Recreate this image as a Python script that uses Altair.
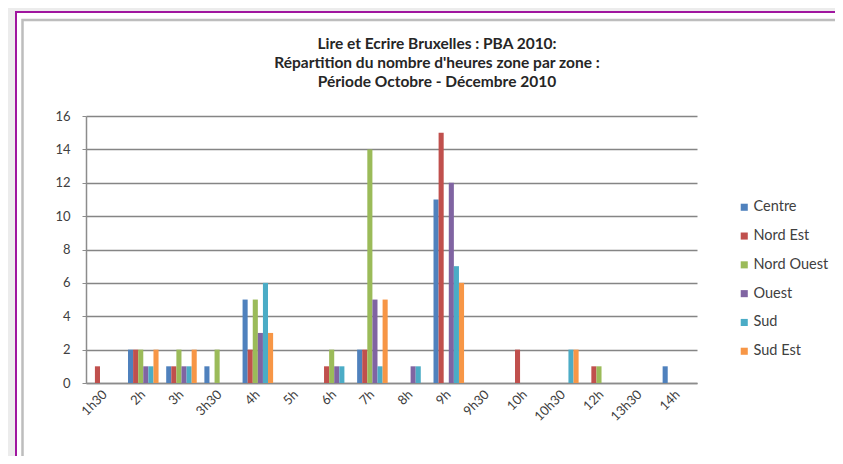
import altair as alt
import pandas as pd

categories = ["1h30", "2h", "3h", "3h30", "4h", "5h", "6h", "7h", "8h", "9h",
              "9h30", "10h", "10h30", "12h", "13h30", "14h"]
series = ["Centre", "Nord Est", "Nord Ouest", "Ouest", "Sud", "Sud Est"]
colors = ["#4F81BD", "#C0504D", "#9BBB59", "#8064A2", "#4BACC6", "#F79646"]

centre     = [0, 2, 1, 1, 5, 0, 0, 2, 0, 11, 0, 0, 0, 0, 0, 1]
nord_est   = [1, 2, 1, 0, 2, 0, 1, 2, 0, 15, 0, 2, 0, 1, 0, 0]
nord_ouest = [0, 2, 2, 2, 5, 0, 2, 14, 0, 0, 0, 0, 0, 1, 0, 0]
ouest      = [0, 1, 1, 0, 3, 0, 1, 5, 1, 12, 0, 0, 0, 0, 0, 0]
sud        = [0, 1, 1, 0, 6, 0, 1, 1, 1, 7, 0, 0, 2, 0, 0, 0]
sud_est    = [0, 2, 2, 0, 3, 0, 0, 5, 0, 6, 0, 0, 2, 0, 0, 0]

title_lines = ["Lire et Ecrire Bruxelles : PBA 2010:",
               "Répartition du nombre d'heures zone par zone :",
               "Période Octobre - Décembre 2010"]

values_by_series = [centre, nord_est, nord_ouest, ouest, sud, sud_est]
rows = []
for s, vals in zip(series, values_by_series):
    for c, v in zip(categories, vals):
        rows.append({"cat": c, "series": s, "value": v})
df = pd.DataFrame(rows)

FONT = "Lato"
TEXT = "#404040"

bars = alt.Chart(df).mark_bar().encode(
    x=alt.X("cat:N", sort=categories,
            scale=alt.Scale(paddingInner=0.2, paddingOuter=0.1),
            axis=alt.Axis(title=None, labelAngle=-45, labelAlign="right",
                          labelBaseline="middle", labelPadding=9, ticks=False,
                          labelFontSize=13, labelColor=TEXT, labelFont=FONT,
                          domainColor="#8C8C8C", domainWidth=1.5, grid=False)),
    xOffset=alt.XOffset("series:N", sort=series,
                        scale=alt.Scale(paddingInner=0, paddingOuter=0)),
    y=alt.Y("value:Q", scale=alt.Scale(domain=[0, 16]),
            axis=alt.Axis(title=None, values=list(range(0, 17, 2)),
                          tickSize=4, tickColor="#8C8C8C", labelPadding=12,
                          labelFontSize=13, labelColor=TEXT, labelFont=FONT,
                          domainColor="#8C8C8C", domainWidth=1.5,
                          gridColor="#858585", gridWidth=1.3)),
    color=alt.Color("series:N", sort=series,
                    scale=alt.Scale(domain=series, range=colors),
                    legend=alt.Legend(title=None, orient="none", legendX=651,
                                      legendY=84, symbolType="square",
                                      symbolSize=50, symbolStrokeWidth=0,
                                      labelFontSize=14.5, labelColor=TEXT,
                                      labelFont=FONT, rowPadding=13.8,
                                      padding=0, labelOffset=2)),
)

one = pd.DataFrame({"k": [0]})

gray_left = alt.Chart(one).mark_rect(color="#ECECEC").encode(
    x=alt.value(-80), x2=alt.value(-71), y=alt.value(-110), y2=alt.value(400))
gray_top = alt.Chart(one).mark_rect(color="#ECECEC").encode(
    x=alt.value(-80), x2=alt.value(800), y=alt.value(-110), y2=alt.value(-105))
purple = alt.Chart(one).mark_rect(fill=None, stroke="#A0169F", strokeWidth=2).encode(
    x=alt.value(-70), x2=alt.value(800), y=alt.value(-104), y2=alt.value(400))
inner = alt.Chart(one).mark_rect(fill=None, stroke="#BDBDBD", strokeWidth=2.5).encode(
    x=alt.value(-63.5), x2=alt.value(800), y=alt.value(-96), y2=alt.value(345))

title = alt.Chart(one).mark_text(
    text=title_lines, font=FONT, fontSize=15.5, fontWeight="bold",
    color="#262626", lineHeight=19, align="center", baseline="top",
).encode(x=alt.value(351), y=alt.value(-79))

chart = alt.layer(gray_left, gray_top, purple, inner, title, bars).properties(
    width=611, height=267,
    autosize=alt.AutoSizeParams(type="none"),
    padding={"left": 78, "top": 108, "right": 138, "bottom": 73},
    background="white",
).configure_view(stroke=None)

chart.save("out.html", embed_options={"renderer": "svg", "actions": False})
